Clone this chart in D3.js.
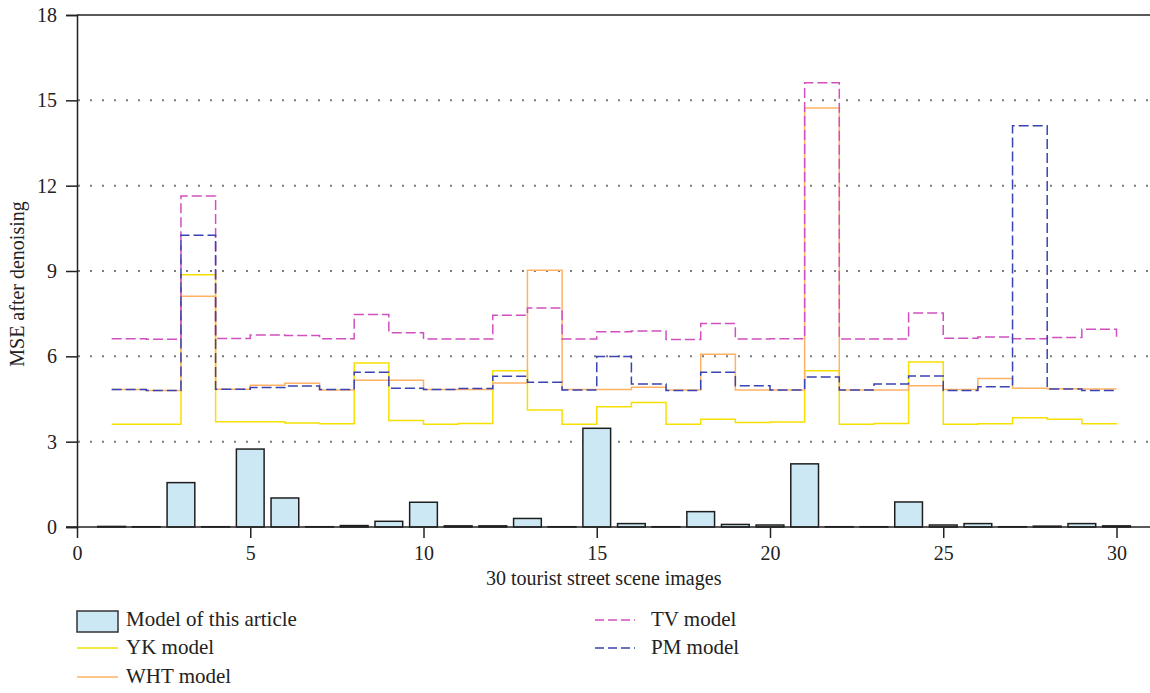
<!DOCTYPE html>
<html>
<head>
<meta charset="utf-8">
<script src="https://cdn.jsdelivr.net/npm/d3@7"></script>
<style>
  html, body { margin: 0; padding: 0; background: #fff; }
  svg { display: block; font-family: "Liberation Serif", "DejaVu Serif", serif; }
</style>
</head>
<body>
<svg id="chart" width="1150" height="693"></svg>
<script>
// Image index 1..30
const images = d3.range(1, 31);

// MSE after denoising for each model
const modelArticle = [0.02, 0.01, 1.56, 0.01, 2.74, 1.02, 0.01, 0.05, 0.20, 0.87,
                      0.04, 0.04, 0.30, 0.01, 3.47, 0.12, 0.01, 0.54, 0.09, 0.07,
                      2.22, 0.01, 0.01, 0.88, 0.07, 0.12, 0.01, 0.03, 0.12, 0.04];
const ykModel = [3.61, 3.61, 8.87, 3.70, 3.70, 3.66, 3.63, 5.77, 3.74, 3.61,
                 3.64, 5.49, 4.11, 3.61, 4.23, 4.38, 3.61, 3.79, 3.67, 3.69,
                 5.49, 3.61, 3.64, 5.80, 3.61, 3.63, 3.84, 3.79, 3.63, 3.61];
const whtModel = [4.83, 4.80, 8.11, 4.84, 4.98, 5.05, 4.82, 5.16, 5.16, 4.83,
                  4.83, 5.06, 9.03, 4.83, 4.83, 4.91, 4.82, 6.07, 4.82, 4.82,
                  14.73, 4.82, 4.82, 4.97, 4.83, 5.22, 4.88, 4.86, 4.85, 4.85];
const tvModel = [6.62, 6.60, 11.64, 6.63, 6.75, 6.73, 6.62, 7.47, 6.83, 6.61,
                 6.61, 7.44, 7.70, 6.61, 6.86, 6.89, 6.59, 7.15, 6.61, 6.62,
                 15.62, 6.61, 6.61, 7.52, 6.64, 6.68, 6.62, 6.66, 6.95, 6.60];
const pmModel = [4.83, 4.80, 10.26, 4.84, 4.90, 4.96, 4.83, 5.44, 4.88, 4.83,
                 4.87, 5.30, 5.09, 4.82, 5.99, 5.03, 4.80, 5.44, 4.97, 4.82,
                 5.27, 4.82, 5.03, 5.31, 4.80, 4.93, 14.11, 4.85, 4.80, 4.80];

// Axis ticks
const xTicks = [0, 5, 10, 15, 20, 25, 30];
const yTicks = [0, 3, 6, 9, 12, 15, 18];
const gridValues = [3, 6, 9, 12, 15];

const svg = d3.select("#chart");
const textColor = "#222";

const x = d3.scaleLinear().domain([0, 31]).range([77, 77 + 31 * 34.65]);
const y = d3.scaleLinear().domain([0, 18]).range([527, 15]);

// Dotted horizontal gridlines
svg.append("g").selectAll("line").data(gridValues).join("line")
  .attr("x1", 78).attr("x2", 1150)
  .attr("y1", d => y(d)).attr("y2", d => y(d))
  .attr("stroke", "#7a7a7a").attr("stroke-width", 2)
  .attr("stroke-dasharray", "2,10");

// Bars: model of this article
const barW = x(0.8) - x(0);
svg.append("g").selectAll("rect").data(images).join("rect")
  .attr("x", d => x(d) - barW / 2)
  .attr("width", barW)
  .attr("y", (d, i) => y(modelArticle[i]))
  .attr("height", (d, i) => y(0) - y(modelArticle[i]))
  .attr("fill", "#cde8f5")
  .attr("stroke", "#1e1e1e")
  .attr("stroke-width", 1.5);

// Step lines for comparison models
const series = [
  { name: "YK model", values: ykModel, color: "#f5e000", dash: null },
  { name: "WHT model", values: whtModel, color: "#ffb264", dash: null },
  { name: "TV model", values: tvModel, color: "#d24fbf", dash: "10,4" },
  { name: "PM model", values: pmModel, color: "#3a43b3", dash: "10,4" }
];

const stepLine = d3.line()
  .x(d => x(d[0]))
  .y(d => y(d[1]))
  .curve(d3.curveStepAfter);

svg.append("g").selectAll("path").data(series).join("path")
  .attr("d", s => stepLine(images.map((d, i) => [d, s.values[i]])))
  .attr("fill", "none")
  .attr("stroke", s => s.color)
  .attr("stroke-width", 1.5)
  .attr("stroke-dasharray", s => s.dash);

// Top frame line
svg.append("line")
  .attr("x1", 77).attr("x2", 1150)
  .attr("y1", y(18)).attr("y2", y(18))
  .attr("stroke", "#222").attr("stroke-width", 1.5);

// Y axis
const yAxis = d3.axisLeft(y).tickValues(yTicks).tickSize(11).tickPadding(9);
const yg = svg.append("g").attr("transform", "translate(77,0)").call(yAxis);
yg.select(".domain").attr("stroke", "#222").attr("stroke-width", 1.5);
yg.selectAll(".tick line").attr("stroke", "#222").attr("stroke-width", 1.5);
yg.selectAll(".tick text")
  .attr("font-size", 20).attr("fill", textColor)
  .attr("font-family", "'Liberation Serif', serif");

// X axis
const xAxis = d3.axisBottom(x).tickValues(xTicks).tickSize(11).tickPadding(8);
const xg = svg.append("g").attr("transform", "translate(0,527)").call(xAxis);
xg.select(".domain").attr("d", "M66,0H1150").attr("stroke", "#222").attr("stroke-width", 1.5);
xg.selectAll(".tick line").attr("stroke", "#222").attr("stroke-width", 1.5);
xg.selectAll(".tick text")
  .attr("font-size", 20).attr("fill", textColor)
  .attr("font-family", "'Liberation Serif', serif");

// Axis titles
svg.append("text")
  .attr("x", x(15.2)).attr("y", 585)
  .attr("text-anchor", "middle")
  .attr("font-size", 20).attr("fill", textColor)
  .text("30 tourist street scene images");

svg.append("text")
  .attr("transform", "translate(24,284) rotate(-90)")
  .attr("text-anchor", "middle")
  .attr("font-size", 20).attr("fill", textColor)
  .text("MSE after denoising");

// Legend
const legend = svg.append("g");
legend.append("rect")
  .attr("x", 77).attr("y", 611).attr("width", 41).attr("height", 21)
  .attr("fill", "#cde8f5").attr("stroke", "#333").attr("stroke-width", 1.5);
legend.append("text").attr("x", 126).attr("y", 626)
  .attr("font-size", 21).attr("fill", textColor).text("Model of this article");

const legendItems = [
  { s: series[0], x: 77, y: 648, w: 41 },
  { s: series[1], x: 77, y: 677, w: 41 },
  { s: series[2], x: 595, y: 620, w: 40 },
  { s: series[3], x: 595, y: 648, w: 40 }
];
legendItems.forEach(it => {
  legend.append("line")
    .attr("x1", it.x).attr("x2", it.x + it.w)
    .attr("y1", it.y).attr("y2", it.y)
    .attr("stroke", it.s.color).attr("stroke-width", 1.5)
    .attr("stroke-dasharray", it.s.dash ? "9,4" : null);
  legend.append("text")
    .attr("x", it.x < 300 ? 126 : 651).attr("y", it.y + 6)
    .attr("font-size", 21).attr("fill", textColor)
    .text(it.s.name);
});
</script>
</body>
</html>
